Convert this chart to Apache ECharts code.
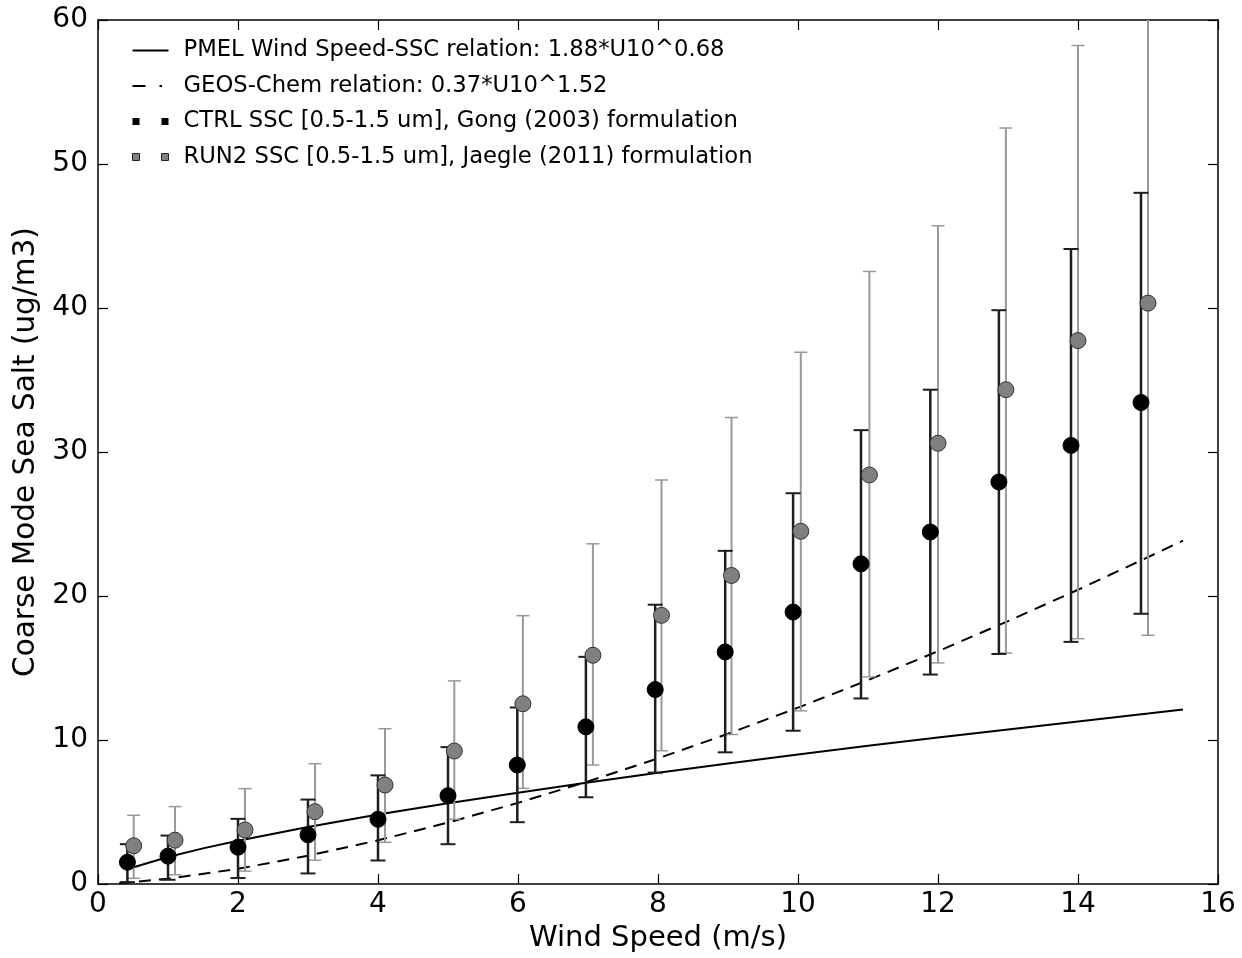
<!DOCTYPE html>
<html>
<head>
<meta charset="utf-8">
<script src="https://cdn.jsdelivr.net/npm/echarts@6/dist/echarts.min.js"></script>
<style>
  html, body { margin: 0; padding: 0; background: #fff; }
  #chart { width: 1242px; height: 958px; }
</style>
</head>
<body>
<div id="chart"></div>
<script>
// CTRL run (Gong 2003), binned by wind speed
var ctrlX    = [0.42, 1.0, 2.0, 3.0, 4.0, 5.0, 5.99, 6.97, 7.96, 8.96, 9.93, 10.9, 11.89, 12.87, 13.9, 14.9];
var ctrlMean = [1.52, 1.94, 2.56, 3.42, 4.5, 6.14, 8.27, 10.92, 13.51, 16.12, 18.89, 22.24, 24.45, 27.92, 30.46, 33.44];
var ctrlLow  = [0.14, 0.3, 0.42, 0.74, 1.64, 2.77, 4.3, 6.03, 7.74, 9.15, 10.65, 12.89, 14.55, 15.98, 16.82, 18.77];
var ctrlHigh = [2.77, 3.37, 4.53, 5.87, 7.55, 9.51, 12.26, 15.78, 19.4, 23.14, 27.14, 31.52, 34.33, 39.85, 44.1, 48.0];

// RUN2 (Jaegle 2011)
var run2X    = [0.51, 1.1, 2.1, 3.1, 4.1, 5.09, 6.07, 7.07, 8.05, 9.05, 10.04, 11.02, 12.0, 12.97, 14.0, 15.0];
var run2Mean = [2.66, 3.05, 3.76, 5.03, 6.88, 9.24, 12.52, 15.89, 18.66, 21.43, 24.5, 28.41, 30.61, 34.33, 37.74, 40.34];
var run2Low  = [0.4, 0.65, 0.9, 1.66, 2.9, 4.5, 6.65, 8.27, 9.26, 10.39, 12.03, 14.39, 15.36, 16.04, 17.04, 17.28];
var run2High = [4.78, 5.38, 6.63, 8.36, 10.79, 14.11, 18.64, 23.63, 28.06, 32.4, 36.93, 42.54, 45.71, 52.5, 58.23, 63.0];

// empirical relations
var pmelX = [0.4, 1.0, 1.5, 2, 3, 4, 5, 6, 7, 8, 9, 10, 11, 12, 13, 14, 15, 15.5];
var pmelY = [1.01, 1.88, 2.48, 3.01, 3.97, 4.83, 5.62, 6.35, 7.05, 7.73, 8.38, 9.0, 9.6, 10.18, 10.74, 11.29, 11.84, 12.12];
var geosX = [0.3, 1, 2, 3, 4, 5, 6, 7, 8, 9, 10, 11, 12, 13, 14, 15, 15.5];
var geosY = [0.06, 0.37, 1.06, 1.97, 3.04, 4.27, 5.64, 7.13, 8.73, 10.44, 12.25, 14.16, 16.17, 18.26, 20.44, 22.7, 23.85];

var xTicks = [0, 16, 2];
var yTicks = [0, 60, 10];

var names = [
  'PMEL Wind Speed-SSC relation: 1.88*U10^0.68',
  'GEOS-Chem relation: 0.37*U10^1.52',
  'CTRL SSC [0.5-1.5 um], Gong (2003) formulation',
  'RUN2 SSC [0.5-1.5 um], Jaegle (2011) formulation'
];

function zip(a, b, c) {
  return a.map(function (v, i) { return c ? [v, b[i], c[i]] : [v, b[i]]; });
}

function errorBar(color, width, capHalf, capWidth) {
  return function (params, api) {
    var x = api.value(0);
    var lo = api.coord([x, api.value(1)]);
    var hi = api.coord([x, api.value(2)]);
    var cap = { stroke: color, lineWidth: capWidth };
    return {
      type: 'group',
      children: [
        { type: 'line', shape: { x1: lo[0], y1: lo[1], x2: hi[0], y2: hi[1] }, style: { stroke: color, lineWidth: width } },
        { type: 'line', shape: { x1: lo[0] - capHalf, y1: lo[1], x2: lo[0] + capHalf, y2: lo[1] }, style: cap },
        { type: 'line', shape: { x1: hi[0] - capHalf, y1: hi[1], x2: hi[0] + capHalf, y2: hi[1] }, style: cap }
      ]
    };
  };
}

var font = 'DejaVu Sans';
var chart = echarts.init(document.getElementById('chart'));

var axisLine = { show: true, onZero: false, lineStyle: { color: '#000', width: 1.5 } };
var axisTick = { show: true, inside: true, length: 10, lineStyle: { color: '#000', width: 1.2 } };

var option = {
  backgroundColor: '#fff',
  animation: false,
  grid: { left: 98, right: 24, top: 20, bottom: 72, show: false },
  legend: {
    orient: 'vertical',
    left: 127,
    top: 34,
    itemGap: 12.5,
    itemWidth: 36,
    itemHeight: 8,
    textStyle: { fontFamily: font, fontSize: 22.7, color: '#000', padding: [0, 0, 0, 10] },
    data: [
      { name: names[0], icon: 'path://M0,0H36V2H0Z', itemStyle: { color: '#000', borderWidth: 0 } },
      { name: names[1], icon: 'path://M0,0H13V2H0ZM27,0H29.5V2H27ZM36,1L36,1', itemStyle: { color: '#000', borderWidth: 0 } },
      { name: names[2], icon: 'path://M0,0H7V7H0ZM29,0H36V7H29Z', itemStyle: { color: '#000', borderWidth: 0 } },
      { name: names[3], icon: 'path://M0,0H7V7H0ZM29,0H36V7H29Z', itemStyle: { color: '#808080', borderColor: '#222', borderWidth: 1 } }
    ]
  },
  xAxis: [{
    type: 'value', min: xTicks[0], max: xTicks[1], interval: xTicks[2],
    name: 'Wind Speed (m/s)', nameLocation: 'middle', nameGap: 39,
    nameTextStyle: { fontFamily: font, fontSize: 29, color: '#000' },
    axisLine: axisLine, axisTick: axisTick, splitLine: { show: false },
    axisLabel: { fontFamily: font, fontSize: 28, color: '#000', margin: 7 }
  }, {
    type: 'value', position: 'top', min: xTicks[0], max: xTicks[1], interval: xTicks[2],
    axisLine: axisLine, axisTick: axisTick, splitLine: { show: false }, axisLabel: { show: false }
  }],
  yAxis: [{
    type: 'value', min: yTicks[0], max: yTicks[1], interval: yTicks[2],
    name: 'Coarse Mode Sea Salt (ug/m3)', nameLocation: 'middle', nameGap: 55,
    nameTextStyle: { fontFamily: font, fontSize: 29.5, color: '#000' },
    axisLine: axisLine, axisTick: axisTick, splitLine: { show: false },
    axisLabel: { fontFamily: font, fontSize: 28, color: '#000', margin: 10 }
  }, {
    type: 'value', position: 'right', min: yTicks[0], max: yTicks[1], interval: yTicks[2],
    axisLine: axisLine, axisTick: axisTick, splitLine: { show: false }, axisLabel: { show: false }
  }],
  series: [
    {
      name: names[0], type: 'line', data: zip(pmelX, pmelY), showSymbol: false, symbol: 'none',
      lineStyle: { color: '#000', width: 2 }, itemStyle: { color: '#000' }, z: 1
    },
    {
      name: names[1], type: 'line', data: zip(geosX, geosY), showSymbol: false, symbol: 'none',
      lineStyle: { color: '#000', width: 2, type: [12, 8] }, itemStyle: { color: '#000' }, z: 1
    },
    {
      name: 'run2-err', type: 'custom', clip: true, z: 2,
      renderItem: errorBar('#999', 2, 6.5, 1.5),
      encode: { x: 0, y: [1, 2] },
      data: zip(run2X, run2Low, run2High)
    },
    {
      name: 'ctrl-err', type: 'custom', clip: true, z: 3,
      renderItem: errorBar('#1e1e1e', 2.5, 7.5, 2),
      encode: { x: 0, y: [1, 2] },
      data: zip(ctrlX, ctrlLow, ctrlHigh)
    },
    {
      name: names[3], type: 'scatter', data: zip(run2X, run2Mean), symbolSize: 16, z: 4,
      itemStyle: { color: '#808080', borderColor: '#333', borderWidth: 1, opacity: 1 }
    },
    {
      name: names[2], type: 'scatter', data: zip(ctrlX, ctrlMean), symbolSize: 16, z: 5,
      itemStyle: { color: '#000', borderColor: '#000', borderWidth: 1, opacity: 1 }
    }
  ]
};

chart.setOption(option);
</script>
</body>
</html>
